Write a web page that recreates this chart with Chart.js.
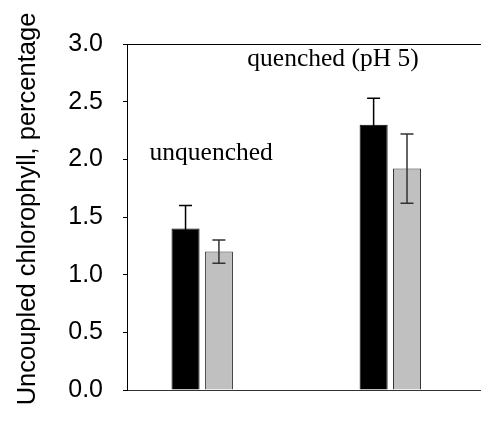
<!DOCTYPE html>
<html lang="en">
<head>
<meta charset="UTF-8">
<script src="https://cdn.jsdelivr.net/npm/chart.js"></script>
<style>
  html, body { margin: 0; padding: 0; background: #fff; overflow: hidden; }
</style>
</head>
<body>
<canvas id="myChart" width="490" height="425"></canvas>
<script>
// data
const groupNames = ['unquenched', 'quenched (pH 5)']
const groupPos = [1, 2]
const darkValues = [1.4, 2.3]
const darkErrors = [0.2, 0.23]
const lightValues = [1.2, 1.92]
const lightErrors = [0.1, 0.3]
const yTicks = [0, 0.5, 1, 1.5, 2, 2.5, 3]
const yTitle = 'Uncoupled chlorophyll, percentage'
// where the group names sit (data units)
const labelX = [0.72, 1.24]
const labelY = [1.99, 2.81]

function points(vals) {
  return vals.map((v, i) => ({ x: groupPos[i], y: v }))
}

const errorBars = {
  id: 'errorBars',
  afterDatasetsDraw(chart) {
    const ctx = chart.ctx
    const y = chart.scales.y
    chart.data.datasets.forEach((ds, di) => {
      const meta = chart.getDatasetMeta(di)
      meta.data.forEach((bar, i) => {
        const v = ds.data[i].y
        const e = ds.errors[i]
        const top = y.getPixelForValue(v + e)
        const bot = y.getPixelForValue(v - e)
        ctx.save()
        ctx.strokeStyle = ds.errorColor
        ctx.lineWidth = 1.5
        ctx.beginPath()
        ctx.moveTo(bar.x, top); ctx.lineTo(bar.x, bot)
        ctx.moveTo(bar.x - 6.5, top); ctx.lineTo(bar.x + 6.5, top)
        ctx.moveTo(bar.x - 6.5, bot); ctx.lineTo(bar.x + 6.5, bot)
        ctx.stroke()
        ctx.restore()
      })
    })
  }
}

// group names + y title (title sits a bit above the plot centre, like the original)
const textLayer = {
  id: 'textLayer',
  afterDraw(chart) {
    const ctx = chart.ctx
    const xs = chart.scales.x
    const ys = chart.scales.y
    ctx.save()
    ctx.font = '25.5px "Liberation Serif", "Times New Roman", serif'
    ctx.fillStyle = '#000'
    ctx.textAlign = 'left'
    ctx.textBaseline = 'alphabetic'
    groupNames.forEach((name, i) => {
      ctx.fillText(name, xs.getPixelForValue(labelX[i]), ys.getPixelForValue(labelY[i]))
    })
    ctx.restore()

    const area = chart.chartArea
    ctx.save()
    ctx.translate(28, (area.top + area.bottom) / 2 - 8)
    ctx.rotate(-Math.PI / 2)
    ctx.font = '25.5px "Liberation Sans", Arial, sans-serif'
    ctx.fillStyle = '#000'
    ctx.textAlign = 'center'
    ctx.textBaseline = 'middle'
    ctx.fillText(yTitle, 0, 0)
    ctx.restore()
  }
}

const ctx = document.getElementById('myChart')
new Chart(ctx, {
  type: 'bar',
  data: {
    datasets: [{
      label: 'dark',
      data: points(darkValues),
      errors: darkErrors,
      errorColor: '#000',
      backgroundColor: '#000',
      borderColor: '#000',
      borderWidth: 1
    }, {
      label: 'light',
      data: points(lightValues),
      errors: lightErrors,
      errorColor: '#333',
      backgroundColor: '#c0c0c0',
      borderColor: '#333',
      borderWidth: 1
    }]
  },
  options: {
    responsive: false,
    animation: false,
    categoryPercentage: 0.355,
    barPercentage: 0.84,
    layout: { padding: { top: 44, bottom: 34, left: 0, right: 0 } },
    plugins: { legend: { display: false }, tooltip: { enabled: false } },
    scales: {
      x: {
        type: 'linear',
        offset: false,
        min: 0.6,
        max: 2.53,
        afterBuildTicks(scale) { scale.ticks = groupPos.map(v => ({ value: v })) },
        afterFit(scale) { scale.height = 0 },
        ticks: { display: false },
        grid: { drawOnChartArea: false, drawTicks: false, offset: false },
        border: { color: '#333', width: 1 }
      },
      x2: {
        type: 'linear',
        position: 'top',
        afterFit(scale) { scale.height = 0 },
        ticks: { display: false },
        grid: { drawOnChartArea: false, drawTicks: false },
        border: { color: '#000', width: 1 }
      },
      y: {
        min: 0,
        max: 3,
        afterBuildTicks(scale) { scale.ticks = yTicks.map(v => ({ value: v })) },
        afterFit(scale) { scale.width = 127 },
        ticks: {
          color: '#000',
          padding: 20,
          font: { family: '"Liberation Sans", Arial, sans-serif', size: 25 },
          callback: v => v.toFixed(1)
        },
        grid: { drawOnChartArea: false, tickLength: 4, color: '#000' },
        border: { color: '#000', width: 1 }
      }
    }
  },
  plugins: [errorBars, textLayer]
})
</script>
</body>
</html>
